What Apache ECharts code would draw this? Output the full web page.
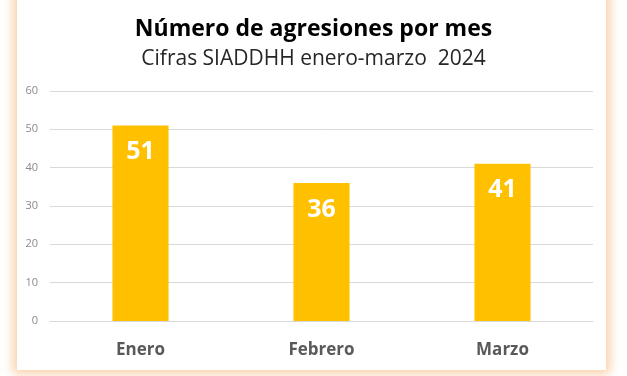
<!DOCTYPE html>
<html>
<head>
<meta charset="utf-8">
<script src="https://cdn.jsdelivr.net/npm/echarts@6/dist/echarts.min.js"></script>
<style>
  html, body { margin: 0; padding: 0; background: #fff; width: 627px; height: 376px; overflow: hidden; }
  #panel {
    position: absolute; left: 17px; top: -10px; width: 589px; height: 380px;
    background: #fff;
    box-shadow: 0 0 10px 4px rgba(242, 170, 100, 0.55);
  }
  #chart { position: absolute; left: 0; top: 0; width: 627px; height: 376px; }
</style>
</head>
<body>
<div id="panel"></div>
<div id="chart"></div>
<script>
const months = ["Enero", "Febrero", "Marzo"];
const agresiones = [51, 36, 41];
const title = "Número de agresiones por mes";
const subtitle = "Cifras SIADDHH enero-marzo  2024";

const chart = echarts.init(document.getElementById("chart"));
chart.setOption({
  animation: false,
  title: {
    text: title,
    subtext: subtitle,
    left: "center",
    top: 13,
    itemGap: 8,
    textStyle: { fontFamily: "Open Sans", fontWeight: "bold", fontSize: 23, color: "#000" },
    subtextStyle: { fontFamily: "Open Sans", fontSize: 21, color: "#262626" }
  },
  grid: { left: 50, right: 34, top: 91, bottom: 55 },
  xAxis: {
    type: "category",
    data: months,
    axisLine: { lineStyle: { color: "#d9d9d9" } },
    axisTick: { show: false },
    axisLabel: { margin: 21, fontFamily: "Open Sans", fontWeight: "bold", fontSize: 17, color: "#595959" }
  },
  yAxis: {
    type: "value",
    min: 0,
    max: 60,
    interval: 10,
    axisLabel: { margin: 12, fontFamily: "Open Sans", fontSize: 11, color: "#8a8a8a" },
    splitLine: { lineStyle: { color: "#d9d9d9" } }
  },
  series: [{
    type: "bar",
    data: agresiones,
    barWidth: "31%",
    itemStyle: { color: "#FFC000" },
    label: {
      show: true,
      position: "insideTop",
      distance: 14,
      fontFamily: "Open Sans",
      fontWeight: "bold",
      fontSize: 25,
      color: "#fff"
    }
  }]
});
</script>
</body>
</html>
